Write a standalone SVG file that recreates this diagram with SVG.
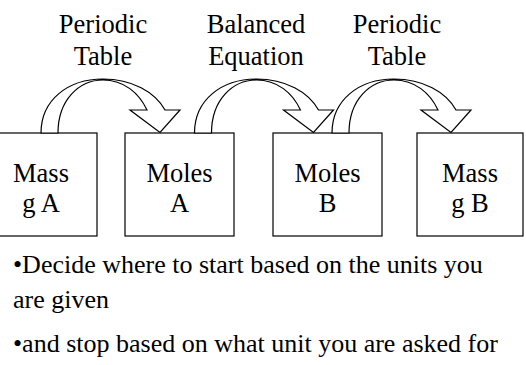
<svg xmlns="http://www.w3.org/2000/svg" width="526" height="365" viewBox="0 0 526 365">
<style>
.lbl{font-size:26.5px;text-anchor:middle;}
.body{font-size:26px;}
.box{fill:#fff;stroke:#000;stroke-width:1.2;}
.arr{fill:#fff;stroke:#000;stroke-width:1.2;stroke-linejoin:miter;}
</style>
<defs>
<g id="curve">
<path class="arr" d="M41,133 C41,100 68,79 103,79 C132,79 155,92 165,110 L180,110 L160,132.5 L130,110 L147,110 C139,93 124,80 103,80 C79,80 58,100 58,133 Z"/>
</g>
</defs>
<rect width="526" height="365" fill="#fff"/>
<g font-family="Liberation Serif, Times New Roman, serif" fill="#000">
<g id="labels">
<text class="lbl" x="103" y="33">Periodic</text>
<text class="lbl" x="103" y="65">Table</text>
<text class="lbl" x="256" y="33">Balanced</text>
<text class="lbl" x="256" y="65">Equation</text>
<text class="lbl" x="397" y="33">Periodic</text>
<text class="lbl" x="397" y="65">Table</text>
</g>
<g id="node-mass-a"><rect class="box" x="-12" y="133" width="109" height="103"/><text class="lbl" x="41" y="182">Mass</text><text class="lbl" x="41" y="212">g A</text></g>
<g id="node-moles-a"><rect class="box" x="125" y="133" width="109" height="103"/><text class="lbl" x="179.5" y="182">Moles</text><text class="lbl" x="179.5" y="212">A</text></g>
<g id="node-moles-b"><rect class="box" x="273" y="133" width="109" height="103"/><text class="lbl" x="327.5" y="182">Moles</text><text class="lbl" x="327.5" y="212">B</text></g>
<g id="node-mass-b"><rect class="box" x="417" y="133" width="106" height="103"/><text class="lbl" x="470" y="182">Mass</text><text class="lbl" x="470" y="212">g B</text></g>
<g id="connectors">
<use href="#curve"/>
<use href="#curve" transform="translate(153.5,0)"/>
<use href="#curve" transform="translate(291,0)"/>
</g>
<g id="notes">
<text class="body" x="13" y="273">•Decide where to start based on the units you</text>
<text class="body" x="13" y="308">are given</text>
<text class="body" x="13" y="352">•and stop based on what unit you are asked for</text>
</g>
</g>
</svg>
